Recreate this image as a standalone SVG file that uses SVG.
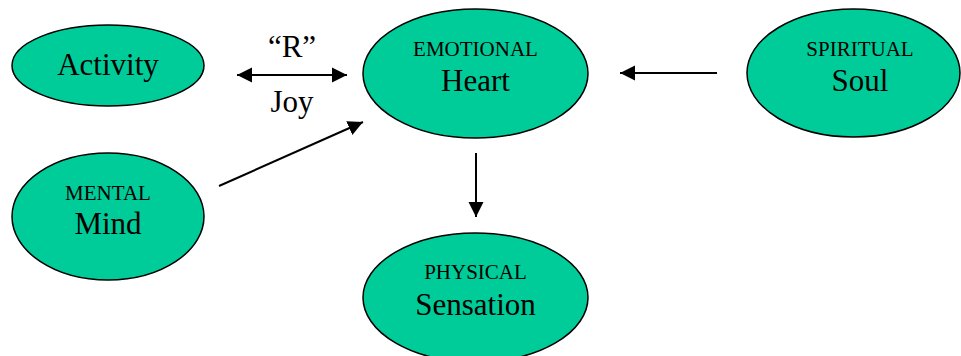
<svg xmlns="http://www.w3.org/2000/svg" width="961" height="356" viewBox="0 0 961 356">
<style>
.node{fill:#00CC99;stroke:#000;stroke-width:1.5}
.big{font-family:"Liberation Serif","Times New Roman",Times,serif;font-size:31px;fill:#000;text-anchor:middle}
.small{font-family:"Liberation Serif","Times New Roman",Times,serif;font-size:21px;fill:#000;text-anchor:middle}
.conn{stroke:#000;stroke-width:2;fill:none}
</style>
<defs>
<marker id="ah" markerUnits="userSpaceOnUse" markerWidth="16" markerHeight="16" viewBox="0 0 16 16" refX="15" refY="8" orient="auto-start-reverse">
<path d="M0,0.5 L15,8 L0,15.5 Z" fill="#000"/>
</marker>
</defs>
<rect width="961" height="356" fill="#fff"/>
<g id="activity">
<ellipse class="node" cx="108" cy="65.5" rx="96" ry="40.5"/>
<text class="big" x="108" y="75">Activity</text>
</g>
<g id="heart">
<ellipse class="node" cx="475.5" cy="73.5" rx="112.5" ry="64.5"/>
<text class="small" x="475.5" y="56">EMOTIONAL</text>
<text class="big" x="475.5" y="91">Heart</text>
</g>
<g id="soul">
<ellipse class="node" cx="853.5" cy="73" rx="106.5" ry="64"/>
<text class="small" x="860" y="56">SPIRITUAL</text>
<text class="big" x="860" y="91">Soul</text>
</g>
<g id="mind">
<ellipse class="node" cx="108" cy="216.5" rx="96" ry="63.5"/>
<text class="small" x="108" y="200">MENTAL</text>
<text class="big" x="108" y="234">Mind</text>
</g>
<g id="sensation">
<ellipse class="node" cx="475.5" cy="297.5" rx="112.5" ry="64.5"/>
<text class="small" x="475.5" y="279">PHYSICAL</text>
<text class="big" x="475.5" y="315">Sensation</text>
</g>
<g id="connectors">
<line class="conn" x1="237" y1="75" x2="347" y2="75" marker-start="url(#ah)" marker-end="url(#ah)"/>
<text class="big" x="292" y="57">“R”</text>
<text class="big" x="292" y="112">Joy</text>
<line class="conn" x1="717" y1="73" x2="620" y2="73" marker-end="url(#ah)"/>
<line class="conn" x1="219" y1="186" x2="363" y2="122" marker-end="url(#ah)"/>
<line class="conn" x1="476" y1="153" x2="476" y2="217" marker-end="url(#ah)"/>
</g>
</svg>
